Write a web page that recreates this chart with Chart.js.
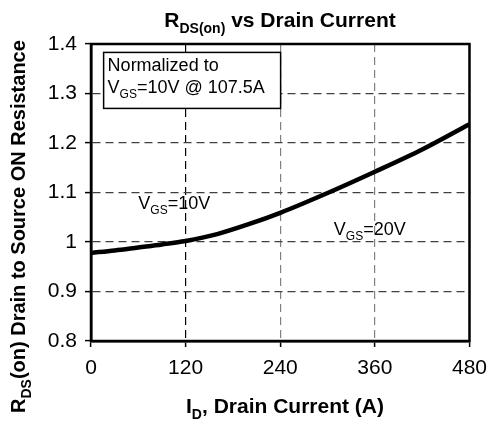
<!DOCTYPE html>
<html>
<head>
<meta charset="utf-8">
<script src="https://cdn.jsdelivr.net/npm/chart.js@4"></script>
<style>
  html, body { margin: 0; padding: 0; background: #fff; }
  #wrap { width: 496px; height: 421px; }
</style>
</head>
<body>
<div id="wrap"><canvas id="myChart" width="496" height="421"></canvas></div>
<script>
const drainCurrent = [0, 30, 60, 90, 120, 160, 200, 240, 300, 360, 420, 480];
const rdsNormalized = [0.978, 0.983, 0.989, 0.995, 1.002, 1.016, 1.036, 1.059, 1.099, 1.142, 1.187, 1.238];
const xTicks = [0, 120, 240, 360, 480];
const yTicks = [0.8, 0.9, 1.0, 1.1, 1.2, 1.3, 1.4];

const FONT = '"Liberation Sans", Arial, sans-serif';

const points = [];
drainCurrent.forEach((x, i) => {
  points.push({ x: x, y: rdsNormalized[i] });
});

// text with subscripts, y is the baseline
function drawRich(ctx, parts, x, y, size, bold, align) {
  const subSize = Math.round(size * 0.68);
  const font = (s) => (bold ? "bold " : "") + s + "px " + FONT;
  let w = 0;
  parts.forEach((p) => {
    ctx.font = font(p.sub ? subSize : size);
    w += ctx.measureText(p.t).width;
  });
  let cx = align === "center" ? x - w / 2 : x;
  ctx.textAlign = "left";
  ctx.textBaseline = "alphabetic";
  parts.forEach((p) => {
    ctx.font = font(p.sub ? subSize : size);
    ctx.fillText(p.t, cx, y + (p.sub ? size * 0.28 : 0));
    cx += ctx.measureText(p.t).width;
  });
}

const decorations = {
  id: "decorations",
  afterDraw(chart) {
    const ctx = chart.ctx;
    const area = chart.chartArea;
    const xs = chart.scales.x;
    const ys = chart.scales.y;
    ctx.save();
    ctx.fillStyle = "#000";

    // frame
    ctx.strokeStyle = "#000";
    ctx.lineWidth = 2.5;
    ctx.strokeRect(area.left, area.top, area.right - area.left, area.bottom - area.top);

    // title
    drawRich(ctx, [{ t: "R" }, { t: "DS(on)", sub: true }, { t: " vs Drain Current" }],
      280, 27, 21, true, "center");

    // x title
    drawRich(ctx, [{ t: "I" }, { t: "D", sub: true }, { t: ", Drain Current (A)" }],
      285, 413, 21, true, "center");

    // y title
    ctx.save();
    ctx.translate(25, 413);
    ctx.rotate(-Math.PI / 2);
    drawRich(ctx, [{ t: "R" }, { t: "DS", sub: true }, { t: "(on) Drain to Source ON Resistance" }],
      0, 0, 20, true, "left");
    ctx.restore();

    // normalization box
    const bx = xs.getPixelForValue(16);
    const by = ys.getPixelForValue(1.383);
    ctx.fillStyle = "#fff";
    ctx.fillRect(bx, by, 177, 56);
    ctx.lineWidth = 1.5;
    ctx.strokeRect(bx, by, 177, 56);
    ctx.fillStyle = "#000";
    drawRich(ctx, [{ t: "Normalized to" }], bx + 4, by + 19, 18, false, "left");
    drawRich(ctx, [{ t: "V" }, { t: "GS", sub: true }, { t: "=10V @ 107.5A" }], bx + 4, by + 41, 18, false, "left");

    // curve labels
    drawRich(ctx, [{ t: "V" }, { t: "GS", sub: true }, { t: "=10V" }],
      xs.getPixelForValue(60), ys.getPixelForValue(1.066), 18, false, "left");
    drawRich(ctx, [{ t: "V" }, { t: "GS", sub: true }, { t: "=20V" }],
      xs.getPixelForValue(308), ys.getPixelForValue(1.014), 18, false, "left");

    ctx.restore();
  },
};

const data = {
  datasets: [
    {
      data: points,
      borderColor: "#000",
      borderWidth: 4.5,
      pointRadius: 0,
      cubicInterpolationMode: "monotone",
      fill: false,
    },
  ],
};

const config = {
  type: "line",
  data: data,
  options: {
    responsive: false,
    animation: false,
    layout: {
      padding: { top: 44, right: 17, left: 0, bottom: 0 },
    },
    scales: {
      x: {
        type: "linear",
        min: 0,
        max: 480,
        afterFit: (scale) => {
          scale.height = 80;
        },
        afterBuildTicks: (scale) => {
          scale.ticks = xTicks.map((v) => ({ value: v }));
        },
        grid: {
          color: (c) => (c.tick && c.tick.value === 120 ? "#000" : "#808080"),
          lineWidth: 1.2,
          tickLength: 6,
          tickColor: "#000",
          tickWidth: 1.5,
        },
        border: { display: true, color: "#000", width: 2.5, dash: [8, 5] },
        ticks: {
          color: "#000",
          padding: 9,
          maxRotation: 0,
          font: { family: FONT, size: 21 },
        },
      },
      y: {
        min: 0.8,
        max: 1.4,
        afterFit: (scale) => {
          scale.width = 91;
        },
        afterBuildTicks: (scale) => {
          scale.ticks = yTicks.map((v) => ({ value: v }));
        },
        grid: {
          color: "#404040",
          lineWidth: 1.2,
          tickLength: 6,
          tickColor: "#000",
          tickWidth: 1.5,
        },
        border: { display: true, color: "#000", width: 2.5, dash: [8, 5] },
        ticks: {
          color: "#000",
          padding: 8,
          font: { family: FONT, size: 21 },
          callback: (v) => String(Math.round(v * 10) / 10),
        },
      },
    },
    plugins: {
      legend: { display: false },
      tooltip: { enabled: false },
    },
  },
  plugins: [decorations],
};

const myChart = new Chart(document.getElementById("myChart"), config);
</script>
</body>
</html>
